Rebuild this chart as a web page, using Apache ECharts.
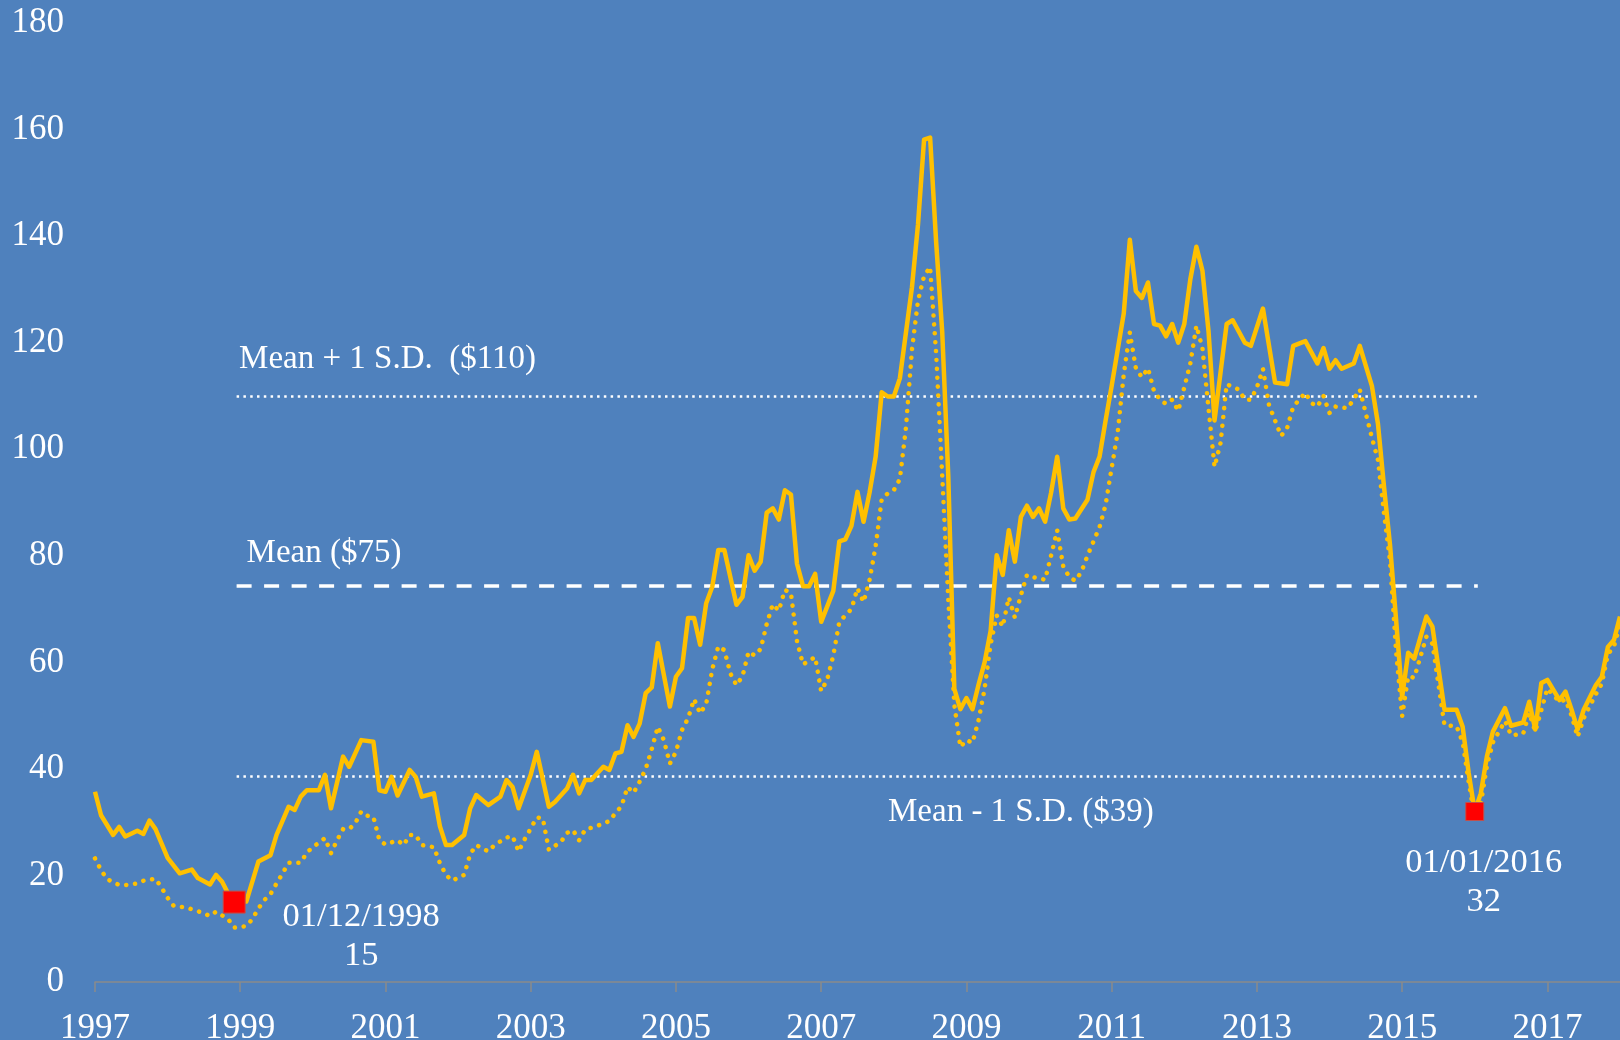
<!DOCTYPE html>
<html>
<head>
<meta charset="utf-8">
<script src="https://cdn.jsdelivr.net/npm/echarts@6/dist/echarts.min.js"></script>
<style>
  html, body { margin: 0; padding: 0; background: #4f81bd; }
  #chart { width: 1620px; height: 1040px; }
</style>
</head>
<body>
<div id="chart"></div>
<script>
// months are counted from Jan 1997 (0 = 1997-01)
const startYear = 1997

// solid line, [month, price]
const realPrice = [
  [0, 35.7], [1, 31.3], [3, 27.6], [4, 29.1], [5, 27.3], [7, 28.4], [8, 27.8], [9, 30.3], [10, 28.7],
  [12, 23.3], [14, 20.4], [16, 21.1], [17, 19.5], [19, 18.3], [20, 20.1], [21, 18.8], [22, 16.6], [23, 15.0],
  [25, 15.1], [27, 22.6], [29, 23.8], [30, 27.6], [32, 32.9], [33, 32.3], [34, 34.8], [35, 36.0],
  [37, 36.0], [38, 38.9], [39, 32.6], [41, 42.3], [42, 40.4], [44, 45.4], [46, 45.1], [47, 36.0],
  [48, 35.7], [49, 38.5], [50, 35.0], [52, 39.8], [53, 38.5], [54, 34.8], [56, 35.4], [57, 29.2], [58, 25.7], [59, 25.7],
  [61, 27.6], [62, 32.6], [63, 35.1], [65, 33.2], [67, 34.8], [68, 37.9], [69, 36.6], [70, 32.6],
  [72, 38.9], [73, 43.2], [75, 32.9], [76, 33.8], [78, 36.3], [79, 38.9], [80, 35.4], [81, 37.9], [82, 37.9],
  [84, 40.4], [85, 39.8], [86, 42.9], [87, 43.2], [88, 48.2], [89, 46.0], [90, 48.5], [91, 54.2], [92, 55.3], [93, 63.6], [95, 51.7],
  [96, 57.3], [97, 58.9], [98, 68.3], [99, 68.3], [100, 63.3], [101, 71.1], [102, 74.2], [103, 81.1], [104, 81.1], [106, 70.8], [107, 72.3],
  [108, 80.1], [109, 77.2], [110, 78.9], [111, 88.1], [112, 88.9], [113, 86.8], [114, 92.3], [115, 91.5], [116, 78.5], [117, 74.3], [118, 74.3], [119, 76.6],
  [120, 67.6], [122, 73.4], [123, 82.7], [124, 83.1], [125, 85.6], [126, 92.0], [127, 86.4], [128, 91.9], [129, 98.6], [130, 110.7], [131, 109.9],
  [132, 109.9], [133, 113.3], [135, 130.4], [136, 142.2], [137, 158.1], [138, 158.5], [139, 138.8], [140, 122.0], [141, 95.0], [142, 55.0], [143, 51.2],
  [144, 53.3], [145, 51.2], [146, 55.8], [147, 60.0], [148, 65.9], [149, 80.1], [150, 76.4], [151, 84.8], [152, 78.9], [153, 87.3], [154, 89.4], [155, 87.3],
  [156, 88.9], [157, 86.4], [158, 91.9], [159, 98.6], [160, 88.9], [161, 86.8], [162, 87.0], [164, 90.5], [165, 95.7], [166, 98.6], [167, 105.4],
  [168, 111.9], [170, 125.5], [171, 139.3], [172, 129.7], [173, 128.4], [174, 131.3], [175, 123.5], [176, 123.2], [177, 121.2], [178, 123.5], [179, 120.0],
  [180, 123.5], [181, 131.9], [182, 138.0], [183, 133.5], [184, 122.2], [185, 105.4], [186, 114.5], [187, 123.5], [188, 124.2], [190, 120.0], [191, 119.4],
  [193, 126.4], [195, 112.5], [197, 112.2], [198, 119.4], [200, 120.3], [202, 116.1], [203, 119.0],
  [204, 115.1], [205, 116.7], [206, 115.1], [208, 116.1], [209, 119.4], [211, 111.9], [212, 104.8], [213, 93.0], [214, 82.0], [215, 68.0],
  [216, 53.5], [217, 61.8], [218, 60.7], [220, 68.6], [221, 66.7], [223, 51.1], [225, 51.1], [226, 47.9], [227, 39.2],
  [228, 32.0], [229, 35.4], [230, 42.3], [231, 47.0], [233, 51.4], [234, 48.1], [236, 48.7], [237, 52.6], [238, 47.4], [239, 56.1],
  [240, 56.7], [242, 52.9], [243, 54.5], [244, 51.1], [245, 47.4], [246, 51.1], [248, 55.7], [249, 57.3], [250, 62.9], [251, 64.2], [252, 68.6]
]

// dotted line, [month, price]
const nominalPrice = [
  [0, 23.2], [1, 21.0], [2, 19.3], [4, 18.2], [5, 18.2], [7, 18.5], [8, 19.0], [10, 19.4], [11, 17.7],
  [12, 15.8], [13, 14.3], [15, 14.0], [17, 13.3], [19, 12.4], [20, 13.2], [22, 11.8], [23, 10.2],
  [25, 10.5], [26, 11.8], [27, 13.8], [28, 15.4], [29, 16.5], [30, 18.5], [31, 20.4], [32, 22.4], [34, 22.4], [35, 24.3],
  [36, 25.3], [38, 27.0], [39, 24.2], [40, 26.6], [41, 28.7], [42, 28.7], [43, 29.8], [44, 32.0], [45, 31.2], [46, 31.0], [47, 26.6],
  [48, 25.8], [50, 26.6], [51, 25.7], [52, 27.6], [53, 27.6], [54, 25.7], [56, 25.3], [57, 22.3], [58, 20.1], [59, 19.0],
  [61, 20.1], [62, 24.0], [63, 25.7], [65, 24.5], [66, 25.7], [68, 27.1], [69, 27.4], [70, 24.5], [71, 26.8],
  [72, 28.8], [73, 30.9], [74, 30.7], [75, 24.8], [77, 26.3], [78, 28.0], [79, 28.5], [80, 26.6], [81, 28.6], [83, 29.3],
  [85, 30.2], [86, 31.7], [87, 33.0], [88, 36.6], [89, 35.5], [90, 37.6], [91, 40.0], [92, 43.7], [93, 47.9], [94, 45.4], [95, 41.0],
  [96, 43.2], [97, 47.3], [98, 49.5], [99, 53.1], [100, 50.4], [101, 52.2], [102, 58.7], [103, 63.0], [104, 62.3], [105, 57.9], [106, 55.7], [107, 57.4],
  [108, 62.0], [109, 61.3], [110, 62.5], [111, 67.2], [112, 70.9], [113, 69.7], [114, 73.6], [115, 73.0], [116, 64.0], [117, 59.6], [119, 61.0],
  [120, 54.6], [121, 56.8], [122, 61.3], [123, 67.6], [125, 70.0], [126, 73.9], [127, 71.3], [128, 75.5], [129, 81.8], [130, 90.6], [131, 91.7],
  [132, 92.3], [133, 94.4], [134, 104.0], [135, 118.7], [136, 127.9], [137, 132.5], [138, 134.2], [139, 117.9], [140, 95.0], [141, 71.8], [142, 52.0], [143, 44.1],
  [144, 45.4], [145, 44.9], [146, 49.1], [147, 55.0], [148, 63.4], [149, 68.8], [150, 66.7], [151, 72.2], [152, 68.4], [153, 72.6], [154, 76.4], [155, 76.0],
  [157, 75.5], [158, 80.1], [159, 84.8], [160, 78.0], [161, 76.0], [162, 75.3], [163, 77.0], [164, 80.0], [166, 85.4], [167, 89.6],
  [168, 96.5], [169, 103.2], [170, 114.1], [171, 121.9], [172, 115.2], [173, 113.5], [174, 115.2], [175, 110.9], [176, 109.3], [177, 108.5], [178, 109.3], [179, 107.2],
  [180, 111.6], [181, 116.1], [182, 123.2], [183, 119.0], [184, 107.7], [185, 96.7], [186, 101.2], [187, 112.2], [189, 111.2], [190, 109.3], [191, 109.3],
  [192, 111.6], [193, 115.1], [194, 108.3], [196, 102.5], [197, 104.0], [198, 108.0], [200, 110.6], [201, 108.7], [202, 108.0], [203, 110.0],
  [204, 106.8], [205, 108.0], [207, 107.7], [208, 109.4], [209, 111.2], [210, 106.7], [211, 102.2], [212, 98.0], [213, 88.0], [214, 79.0], [215, 62.0],
  [216, 49.9], [217, 57.4], [218, 57.1], [220, 64.8], [221, 63.5], [223, 48.2], [225, 48.0], [226, 45.0], [227, 37.5],
  [228, 30.8], [229, 33.5], [230, 40.5], [231, 45.0], [233, 49.0], [234, 46.3], [236, 46.6], [237, 50.5], [238, 47.0],
  [240, 55.1], [242, 52.6], [243, 53.0], [244, 50.0], [245, 46.0], [246, 49.5], [248, 54.0], [249, 56.0], [250, 61.5], [251, 63.0], [252, 67.0]
]

// reference levels and lows
const meanPrice = 74.3
const upperBand = 109.9
const lowerBand = 38.7
const bandLabels = ['Mean + 1 S.D.  ($110)', 'Mean ($75)', 'Mean - 1 S.D. ($39)']
const lowPoints = [
  { month: 23, value: 15, date: '01/12/1998' },
  { month: 228, value: 32, date: '01/01/2016' }
]
const bandFrom = 23.4
const bandTo = 228.5

const font = "'Liberation Serif', 'DejaVu Serif', serif"
const yellow = '#FFC000'
const white = '#ffffff'
const axisGrey = '#8a8a8a'

const dotStyle = { color: white, width: 2.5, type: [2.5, 4.3] }
const dashStyle = { color: white, width: 3.5, type: [15, 12.5] }
const bandLine = (v, style) => [
  { coord: [bandFrom, v], lineStyle: style },
  { coord: [bandTo, v], lineStyle: style }
]

const textStyle = { color: white, fontFamily: font, fontSize: 33 }
const digitStyle = { color: white, fontFamily: font, fontSize: 35 }
const hidden = { color: 'rgba(0,0,0,0)' }
const textMark = (coord, offset, align, text) => ({
  coord,
  symbol: 'circle',
  symbolSize: 1,
  itemStyle: hidden,
  label: { show: true, position: 'inside', offset, align, verticalAlign: 'middle', formatter: text, ...textStyle }
})
const lowMark = (p, size, offset) => ({
  coord: [p.month, p.value],
  symbol: 'rect',
  symbolSize: size,
  itemStyle: { color: '#FF0000', borderColor: '#C0504D', borderWidth: 1 },
  label: { show: true, position: 'inside', offset, align: 'center', verticalAlign: 'middle',
    lineHeight: 39, formatter: p.date + '\n' + p.value, ...textStyle, fontSize: 34.5 }
})

const chart = echarts.init(document.getElementById('chart'))
chart.setOption({
  backgroundColor: '#4F81BD',
  animation: false,
  grid: { left: 95, right: 0, top: 23, bottom: 58, containLabel: false, outerBoundsMode: 'none' },
  xAxis: {
    type: 'value',
    min: 0,
    max: 252,
    interval: 24,
    axisLine: { lineStyle: { color: axisGrey, width: 1.5 } },
    axisTick: { length: 10, lineStyle: { color: axisGrey, width: 1.5 } },
    axisLabel: { ...digitStyle, margin: 29, showMaxLabel: false, formatter: v => String(startYear + v / 12) },
    splitLine: { show: false }
  },
  yAxis: {
    type: 'value',
    min: 0,
    max: 180,
    interval: 20,
    axisLine: { show: false },
    axisTick: { show: false },
    splitLine: { show: false },
    axisLabel: { ...digitStyle, margin: 31 }
  },
  series: [
    {
      type: 'line',
      data: realPrice,
      showSymbol: false,
      silent: true,
      lineStyle: { color: yellow, width: 4.5, join: 'round' },
      markLine: {
        silent: true,
        z: 1,
        symbol: ['none', 'none'],
        label: { show: false },
        data: [bandLine(upperBand, dotStyle), bandLine(meanPrice, dashStyle), bandLine(lowerBand, dotStyle)]
      }
    },
    {
      type: 'line',
      data: nominalPrice,
      showSymbol: false,
      silent: true,
      lineStyle: { color: yellow, width: 4.5, type: [0.1, 8.8], cap: 'round', join: 'round' },
      markPoint: {
        silent: true,
        z: 6,
        data: [
          textMark([bandFrom, upperBand], [2.5, -37], 'left', bandLabels[0]),
          textMark([bandFrom, meanPrice], [10, -33], 'left', bandLabels[1]),
          textMark([153, lowerBand], [0, 37], 'center', bandLabels[2]),
          lowMark(lowPoints[0], 22, [127, 34]),
          lowMark(lowPoints[1], 18, [9, 71])
        ]
      }
    }
  ]
})
</script>
</body>
</html>
